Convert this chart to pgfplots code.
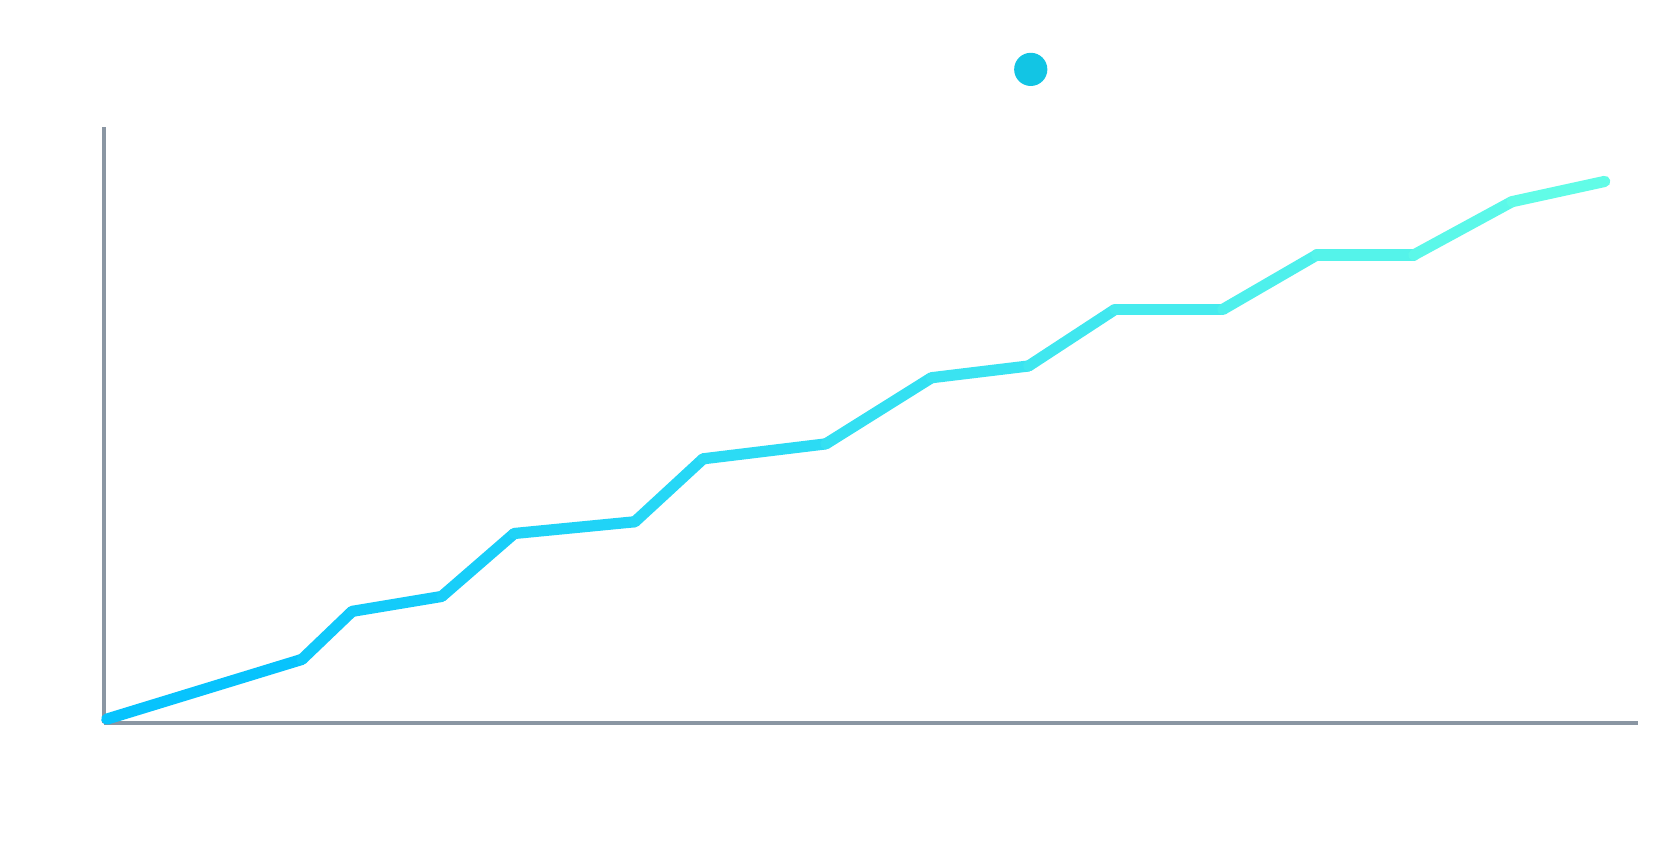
\documentclass[border=0pt]{standalone}
\usepackage{pgfplots}
\pgfplotsset{compat=1.18}
\definecolor{axisgray}{RGB}{138,150,163}
\definecolor{dotcol}{RGB}{18,197,228}
\definecolor{cL}{RGB}{0,191,255}
\definecolor{cR}{RGB}{102,255,230}
\begin{document}
\begin{tikzpicture}
\useasboundingbox (0,0) rectangle (836.5pt,426pt);
\begin{axis}[
  at={(51.75pt,64.3pt)}, anchor=south west,
  scale only axis, width=767.15pt, height=298.2pt,
  xmin=0, xmax=1438, ymin=0, ymax=559,
  axis lines=left, axis line style={-, draw=axisgray, line width=2pt},
  xtick=\empty, ytick=\empty,
  clip=false,
  every axis plot/.append style={line width=5.6pt, line cap=round, line join=miter, mark=none},
  legend style={at={(0.605,1.0966)}, anchor=center, draw=none, fill=none, inner sep=0pt, outer sep=0pt,
    nodes={inner sep=0pt, outer sep=0pt}, column sep=0pt},
]
\addplot[color=cR!7!cL, legend image code/.code={\path[fill=dotcol, draw=none] (0pt,0pt) circle (8.3pt);}] coordinates {(3,4) (186,60)};
\addlegendentry{}
\addplot[forget plot, color=cR!15!cL] coordinates {(186,60) (233,105)};
\addplot[forget plot, color=cR!19!cL] coordinates {(233,105) (317,119)};
\addplot[forget plot, color=cR!24!cL] coordinates {(317,119) (385,178)};
\addplot[forget plot, color=cR!31!cL] coordinates {(385,178) (498,189)};
\addplot[forget plot, color=cR!37!cL] coordinates {(498,189) (562,248)};
\addplot[forget plot, color=cR!43!cL] coordinates {(562,248) (677,262)};
\addplot[forget plot, color=cR!51!cL] coordinates {(677,262) (776,324)};
\addplot[forget plot, color=cR!57!cL] coordinates {(776,324) (867,335)};
\addplot[forget plot, color=cR!63!cL] coordinates {(867,335) (948,388)};
\addplot[forget plot, color=cR!69!cL] coordinates {(948,388) (1049,388)};
\addplot[forget plot, color=cR!76!cL] coordinates {(1049,388) (1137,439)};
\addplot[forget plot, color=cR!82!cL] coordinates {(1137,439) (1228,439)};
\addplot[forget plot, color=cR!89!cL] coordinates {(1228,439) (1320,489)};
\addplot[forget plot, color=cR!95!cL] coordinates {(1320,489) (1407,508)};
\end{axis}
\end{tikzpicture}
\end{document}
